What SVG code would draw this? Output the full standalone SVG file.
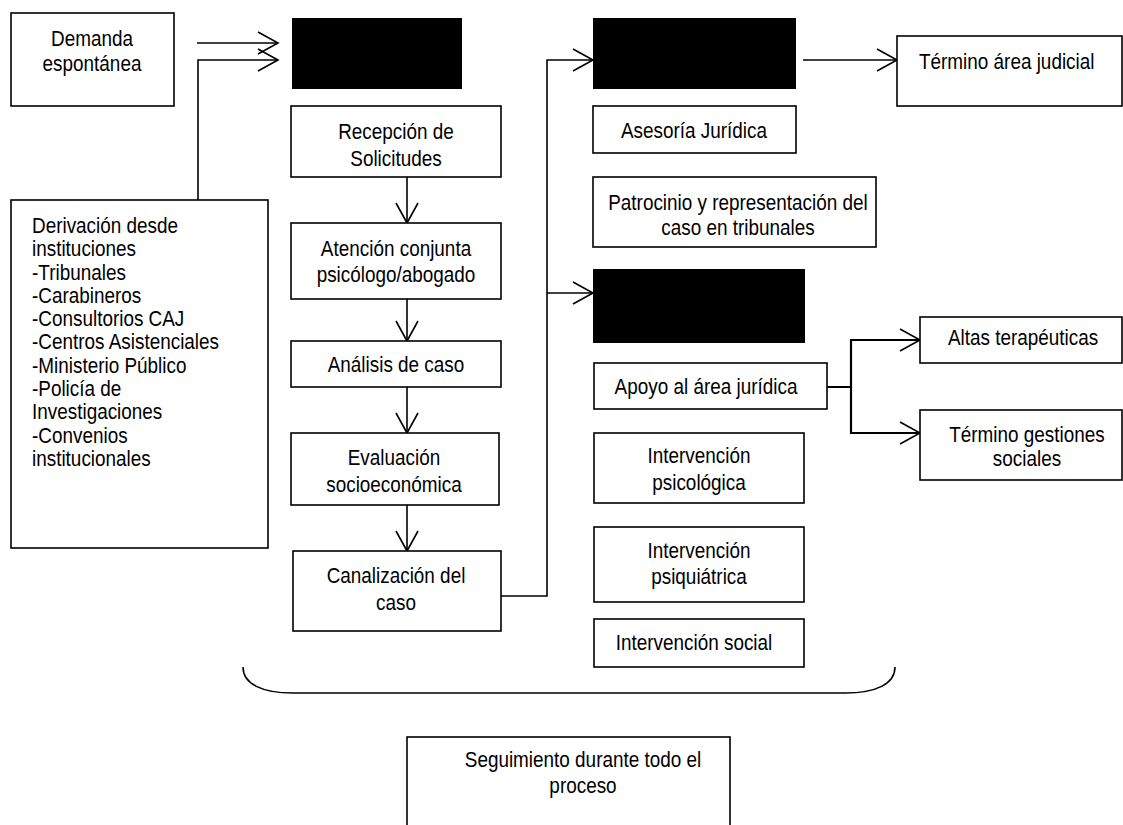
<svg xmlns="http://www.w3.org/2000/svg" width="1123" height="825" viewBox="0 0 1123 825">
<style>
.box{fill:#fff;stroke:#000;stroke-width:1.6}
.blk{fill:#000;stroke:none}
.t{font-family:"Liberation Sans",Arial,sans-serif;font-size:22px;fill:#000}
.c{text-anchor:middle}
.ln{fill:none;stroke:#000;stroke-width:1.6}
.ln2{fill:none;stroke:#000;stroke-width:2.2}
</style>
<defs>
<marker id="arr" markerUnits="userSpaceOnUse" markerWidth="26" markerHeight="28" refX="21" refY="12" orient="auto">
<path d="M1,1 L21,12 L1,23" fill="none" stroke="#000" stroke-width="1.6"/>
</marker>
</defs>
<rect width="1123" height="825" fill="#fff"/>

<g id="connectors">
<path class="ln" d="M197,43 H278" marker-end="url(#arr)"/>
<path class="ln" d="M198,200 V60 H278" marker-end="url(#arr)"/>
<path class="ln" d="M407,177 V223" marker-end="url(#arr)"/>
<path class="ln" d="M407,299 V341" marker-end="url(#arr)"/>
<path class="ln" d="M407,387 V433" marker-end="url(#arr)"/>
<path class="ln" d="M407,505 V551" marker-end="url(#arr)"/>
<path class="ln" d="M501,596 H547 V60 H593" marker-end="url(#arr)"/>
<path class="ln" d="M547,293 H593" marker-end="url(#arr)"/>
<path class="ln" d="M803,60 H897" marker-end="url(#arr)"/>
<path class="ln2" d="M827,387 H851 V340 H920" marker-end="url(#arr)"/>
<path class="ln2" d="M851,387 V433 H920" marker-end="url(#arr)"/>
<path class="ln" d="M243,667 C243,684 262,693 293,693 L845,693 C876,693 895,684 895,667"/>
</g>

<g id="demanda">
<rect class="box" x="11" y="13" width="163" height="93"/>
<text class="t c" transform="translate(92,46) scale(0.86,1)"><tspan x="0" y="0">Demanda</tspan><tspan x="0" y="25">espontánea</tspan></text>
</g>

<g id="derivacion">
<rect class="box" x="11" y="200" width="257" height="348"/>
<text class="t" transform="translate(32,233) scale(0.86,1)">
<tspan x="0" y="0">Derivación desde</tspan>
<tspan x="0" y="23.3">instituciones</tspan>
<tspan x="0" y="46.6">-Tribunales</tspan>
<tspan x="0" y="69.9">-Carabineros</tspan>
<tspan x="0" y="93.2">-Consultorios CAJ</tspan>
<tspan x="0" y="116.5">-Centros Asistenciales</tspan>
<tspan x="0" y="139.8">-Ministerio Público</tspan>
<tspan x="0" y="163.1">-Policía de</tspan>
<tspan x="0" y="186.4">Investigaciones</tspan>
<tspan x="0" y="209.7">-Convenios</tspan>
<tspan x="0" y="233">institucionales</tspan>
</text>
</g>

<g id="black1"><rect class="blk" x="292" y="18" width="170" height="71"/></g>

<g id="recepcion">
<rect class="box" x="291" y="106" width="210" height="71"/>
<text class="t c" transform="translate(396,139) scale(0.86,1)"><tspan x="0" y="0">Recepción de</tspan><tspan x="0" y="27">Solicitudes</tspan></text>
</g>

<g id="atencion">
<rect class="box" x="291" y="223" width="210" height="76"/>
<text class="t c" transform="translate(396,256) scale(0.86,1)"><tspan x="0" y="0">Atención conjunta</tspan><tspan x="0" y="26">psicólogo/abogado</tspan></text>
</g>

<g id="analisis">
<rect class="box" x="291" y="341" width="210" height="46"/>
<text class="t c" transform="translate(396,372) scale(0.86,1)">Análisis de caso</text>
</g>

<g id="evaluacion">
<rect class="box" x="291" y="433" width="208" height="72"/>
<text class="t c" transform="translate(394,465) scale(0.86,1)"><tspan x="0" y="0">Evaluación</tspan><tspan x="0" y="27">socioeconómica</tspan></text>
</g>

<g id="canalizacion">
<rect class="box" x="293" y="551" width="208" height="80"/>
<text class="t c" transform="translate(396,583) scale(0.86,1)"><tspan x="0" y="0">Canalización del</tspan><tspan x="0" y="27">caso</tspan></text>
</g>

<g id="black2"><rect class="blk" x="593" y="18" width="203" height="71"/></g>

<g id="termino-judicial">
<rect class="box" x="897" y="36" width="225" height="70"/>
<text class="t" transform="translate(919,69) scale(0.86,1)">Término área judicial</text>
</g>

<g id="asesoria">
<rect class="box" x="593" y="106" width="203" height="47"/>
<text class="t c" transform="translate(694,138) scale(0.86,1)">Asesoría Jurídica</text>
</g>

<g id="patrocinio">
<rect class="box" x="593" y="177" width="283" height="70"/>
<text class="t c" transform="translate(738,210) scale(0.86,1)"><tspan x="0" y="0">Patrocinio y representación del</tspan><tspan x="0" y="25">caso en tribunales</tspan></text>
</g>

<g id="black3"><rect class="blk" x="593" y="269" width="212" height="74"/></g>

<g id="apoyo">
<rect class="box" x="594" y="363" width="233" height="46"/>
<text class="t c" transform="translate(706,394) scale(0.86,1)">Apoyo al área jurídica</text>
</g>

<g id="altas">
<rect class="box" x="920" y="317" width="202" height="46"/>
<text class="t c" transform="translate(1023,345) scale(0.86,1)">Altas terapéuticas</text>
</g>

<g id="termino-gestiones">
<rect class="box" x="920" y="410" width="202" height="70"/>
<text class="t c" transform="translate(1027,442) scale(0.86,1)"><tspan x="0" y="0">Término gestiones</tspan><tspan x="0" y="24">sociales</tspan></text>
</g>

<g id="int-psicologica">
<rect class="box" x="594" y="433" width="210" height="70"/>
<text class="t c" transform="translate(699,463) scale(0.86,1)"><tspan x="0" y="0">Intervención</tspan><tspan x="0" y="27">psicológica</tspan></text>
</g>

<g id="int-psiquiatrica">
<rect class="box" x="594" y="527" width="210" height="75"/>
<text class="t c" transform="translate(699,558) scale(0.86,1)"><tspan x="0" y="0">Intervención</tspan><tspan x="0" y="26">psiquiátrica</tspan></text>
</g>

<g id="int-social">
<rect class="box" x="594" y="619" width="210" height="48"/>
<text class="t c" transform="translate(694,650) scale(0.86,1)">Intervención social</text>
</g>

<g id="seguimiento">
<rect class="box" x="407" y="737" width="323" height="100"/>
<text class="t c" transform="translate(583,767) scale(0.86,1)"><tspan x="0" y="0">Seguimiento durante todo el</tspan><tspan x="0" y="26">proceso</tspan></text>
</g>
</svg>
